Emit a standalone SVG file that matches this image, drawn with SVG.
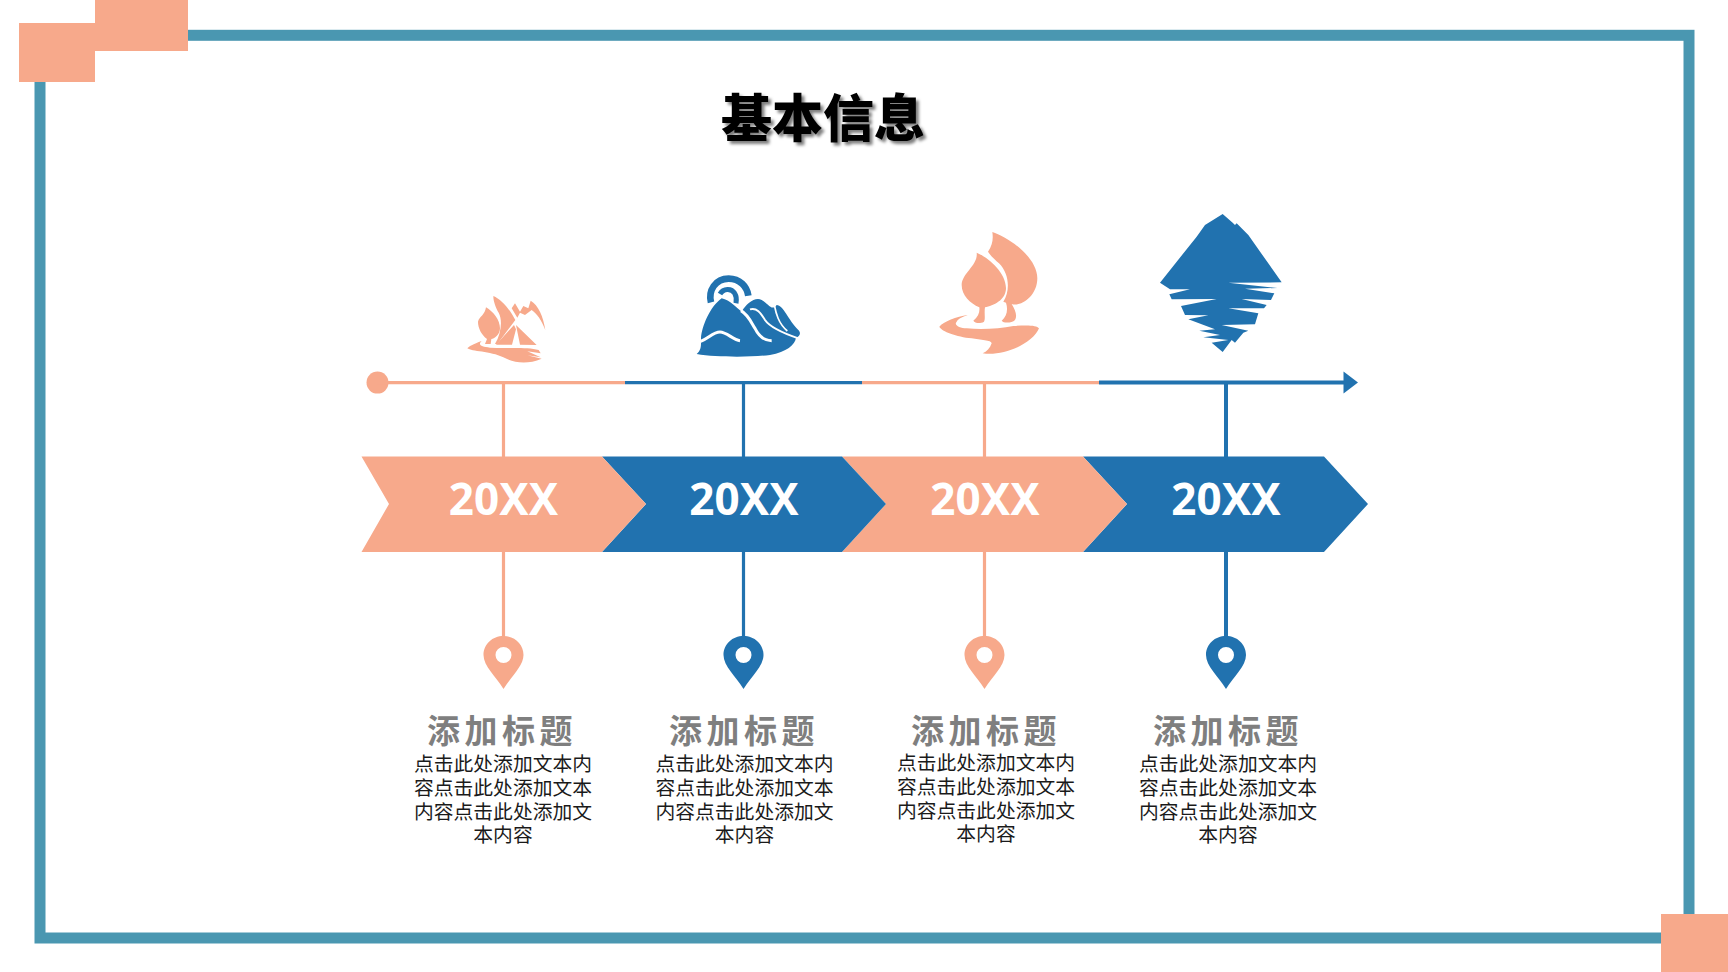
<svg xmlns="http://www.w3.org/2000/svg" width="1728" height="972" viewBox="0 0 1728 972">
<style>
.p{fill:#F7A98B}.b{fill:#2172AF}
.ps{stroke:#F7A98B;fill:none}.bs{stroke:#2172AF;fill:none}
.yr{font:700 44px "Noto Sans","Liberation Sans",sans-serif;fill:#fff;text-anchor:middle}
.tt{font:700 33px "Noto Sans CJK SC",sans-serif;fill:#7F7F7F;text-anchor:middle;letter-spacing:4.500px}
.bd{font:400 19.800px "Noto Sans CJK SC",sans-serif;fill:#1a1a1a;text-anchor:middle}
</style>
<defs>
<filter id="sh" x="-10%" y="-20%" width="120%" height="150%"><feDropShadow dx="3" dy="3" stdDeviation="1.500" flood-color="#000" flood-opacity=".5"/></filter>
<path id="pin" d="M0,51 C-8,38 -20,28 -20,17 C-20,6 -11,-2 0,-2 C11,-2 20,6 20,17 C20,28 8,38 0,51Z M0,9 A8,8 0 1 0 0,25 A8,8 0 1 0 0,9Z" fill-rule="evenodd"/>
</defs>
<rect width="1728" height="972" fill="#fff"/>
<g id="frame">
<rect x="40" y="35.300" width="1649" height="902.700" fill="none" stroke="#4A97B1" stroke-width="11"/>
<rect class="p" x="19" y="23" width="76" height="59"/>
<rect class="p" x="95" y="0" width="93" height="51"/>
<rect class="p" x="1661" y="914" width="67" height="58"/>
</g>
<text id="title" x="823" y="137" text-anchor="middle" filter="url(#sh)" style="font:900 51px 'Noto Sans CJK SC',sans-serif;fill:#000">基本信息</text>
<g id="icon1" class="p" transform="translate(440,270) scale(.33333)">
<path d="M160,78 C185,88 212,122 226,150 L172,222 L165,222 C184,190 188,150 176,128 C168,115 160,95 160,78Z"/>
<path d="M138,112 C160,125 180,150 180,175 C180,195 162,207 154,207 L152,222 L135,222 L141,207 C125,195 114,175 114,155 C118,140 135,135 138,112Z"/>
<path d="M215,115 L225,100 L240,125 L250,108 L265,115 L272,92 C295,105 310,140 316,180 C305,150 290,130 275,120 L255,135 L240,128 L232,143Z"/>
<path d="M222,165 L228,178 L216,224 L168,224Z M228,165 L290,225 L240,224Z"/>
<path d="M125,213 C100,222 85,230 82,235 C95,245 150,243 190,262 C220,278 260,285 305,266 L262,256 L302,262 L262,244 L302,250 L296,240 C260,230 200,236 150,233 C125,230 112,225 125,213Z"/>
</g>
<g id="icon2" class="b" transform="translate(440,270) scale(.33333)">
<path d="M845,85 C870,90 890,115 905,125 C920,100 945,80 965,90 C985,100 995,125 1010,105 C1030,105 1045,150 1075,180 C1085,190 1078,200 1068,203 C1065,225 1040,245 990,255 C930,262 830,262 770,252 C785,240 783,225 783,205 C785,170 810,110 845,85Z"/>
<path d="M813,97 C804,62 826,26 866,26 C900,26 921,50 925,77" fill="none" stroke="#2172AF" stroke-width="20"/>
<path d="M840,72 C850,54 875,54 884,70 C890,80 890,90 888,100" fill="none" stroke="#2172AF" stroke-width="15"/>
<g fill="none" stroke="#fff">
<path d="M782,214 C805,205 820,186 840,186 C860,186 880,210 900,212" stroke-width="9"/>
<path d="M903,122 C925,135 935,160 945,175 C955,195 970,212 995,212" stroke-width="9"/>
<path d="M930,118 C950,112 962,128 975,150 C990,172 1025,188 1075,205" stroke-width="6"/>
<path d="M1003,105 C1008,130 1015,160 1042,183" stroke-width="5"/>
</g>
</g>
<g id="icon3" class="p" transform="translate(920,200) scale(.33333)">
<path d="M217,96 C262,110 352,170 352,235 C352,290 300,322 275,312 C285,330 293,345 285,360 C275,370 250,370 245,362 C260,350 265,330 258,308 L250,305 C272,270 267,220 237,190 C225,180 210,165 204,155 C218,135 220,115 217,96Z"/>
<path d="M170,158 C200,170 258,215 258,265 C258,300 220,318 195,322 C192,340 197,355 192,365 C180,372 165,370 160,362 C175,350 180,335 178,322 C150,310 125,285 125,255 C125,220 175,195 170,158Z"/>
<path d="M143,345 C110,350 70,365 58,380 C65,395 110,410 155,415 C180,420 215,420 215,430 C210,445 200,455 188,460 C250,470 340,430 357,385 C350,375 320,375 280,378 C240,385 190,390 140,385 C120,385 100,375 110,365 C115,355 130,350 143,345Z"/>
</g>
<g id="icon4" class="b" transform="translate(920,200) scale(.33333)">
<path d="M908,42 L938,68 L945,75 L950,70 L985,105 L1085,247 L925,248 L1072,264 L975,266 L1063,280 L1053,300 L965,297 L1040,315 L1032,325 L925,325 L1015,340 L1005,373 L905,375 L985,392 L970,398 L945,428 L935,420 L908,456 L875,428 L925,420 L850,412 L900,405 L838,392 L885,388 L805,358 L865,346 L795,345 L783,318 L890,297 L755,298 L748,283 L810,268 L750,268 L720,248 L830,110 L855,75Z"/>
</g>
<g id="connectors">
<circle class="p" cx="377.500" cy="382.600" r="11"/>
<path class="ps" stroke-width="3.200" d="M377,382.600 H625 M503.500,383 V457 M503.500,551 V638"/>
<path class="bs" stroke-width="3.200" d="M625,382.600 H862 M743.500,383 V457 M743.500,551 V638"/>
<path class="ps" stroke-width="3.200" d="M862,382.600 H1099 M984.500,383 V457 M984.500,551 V638"/>
<path class="bs" stroke-width="4" d="M1099,382.600 H1345 M1226,383 V457 M1226,551 V638"/>
<path class="b" d="M1343.500,371.500 L1358,382.600 L1343.500,393.500Z"/>
</g>
<g id="year4"><path class="b" d="M1083,456.500 H1324 L1368,504 L1324,552 H1083 L1127,504Z"/><text class="yr" x="1226" y="515">20XX</text></g>
<g id="year3"><path class="p" d="M842,456.500 H1083 L1127,504 L1083,552 H842 L886,504Z"/><text class="yr" x="985" y="515">20XX</text></g>
<g id="year2"><path class="b" d="M602,456.500 H842 L886,504 L842,552 H602 L646,504Z"/><text class="yr" x="744" y="515">20XX</text></g>
<g id="year1"><path class="p" d="M361.500,456.500 H602 L646,504 L602,552 H361.500 L389,504Z"/><text class="yr" x="503.500" y="515">20XX</text></g>
<g id="item1"><use href="#pin" class="p" x="503.500" y="638"/><text class="tt" x="502" y="743">添加标题</text>
<text class="bd" x="503" y="771">点击此处添加文本内</text><text class="bd" x="503" y="795">容点击此处添加文本</text><text class="bd" x="503" y="819">内容点击此处添加文</text><text class="bd" x="503" y="842">本内容</text></g>
<g id="item2"><use href="#pin" class="b" x="743.500" y="638"/><text class="tt" x="744" y="743">添加标题</text>
<text class="bd" x="744.500" y="771">点击此处添加文本内</text><text class="bd" x="744.500" y="795">容点击此处添加文本</text><text class="bd" x="744.500" y="819">内容点击此处添加文</text><text class="bd" x="744.500" y="842">本内容</text></g>
<g id="item3"><use href="#pin" class="p" x="984.500" y="638"/><text class="tt" x="986" y="743">添加标题</text>
<text class="bd" x="986" y="770">点击此处添加文本内</text><text class="bd" x="986" y="794">容点击此处添加文本</text><text class="bd" x="986" y="818">内容点击此处添加文</text><text class="bd" x="986" y="841">本内容</text></g>
<g id="item4"><use href="#pin" class="b" x="1226" y="638"/><text class="tt" x="1228" y="743">添加标题</text>
<text class="bd" x="1228" y="771">点击此处添加文本内</text><text class="bd" x="1228" y="795">容点击此处添加文本</text><text class="bd" x="1228" y="819">内容点击此处添加文</text><text class="bd" x="1228" y="842">本内容</text></g>
</svg>
